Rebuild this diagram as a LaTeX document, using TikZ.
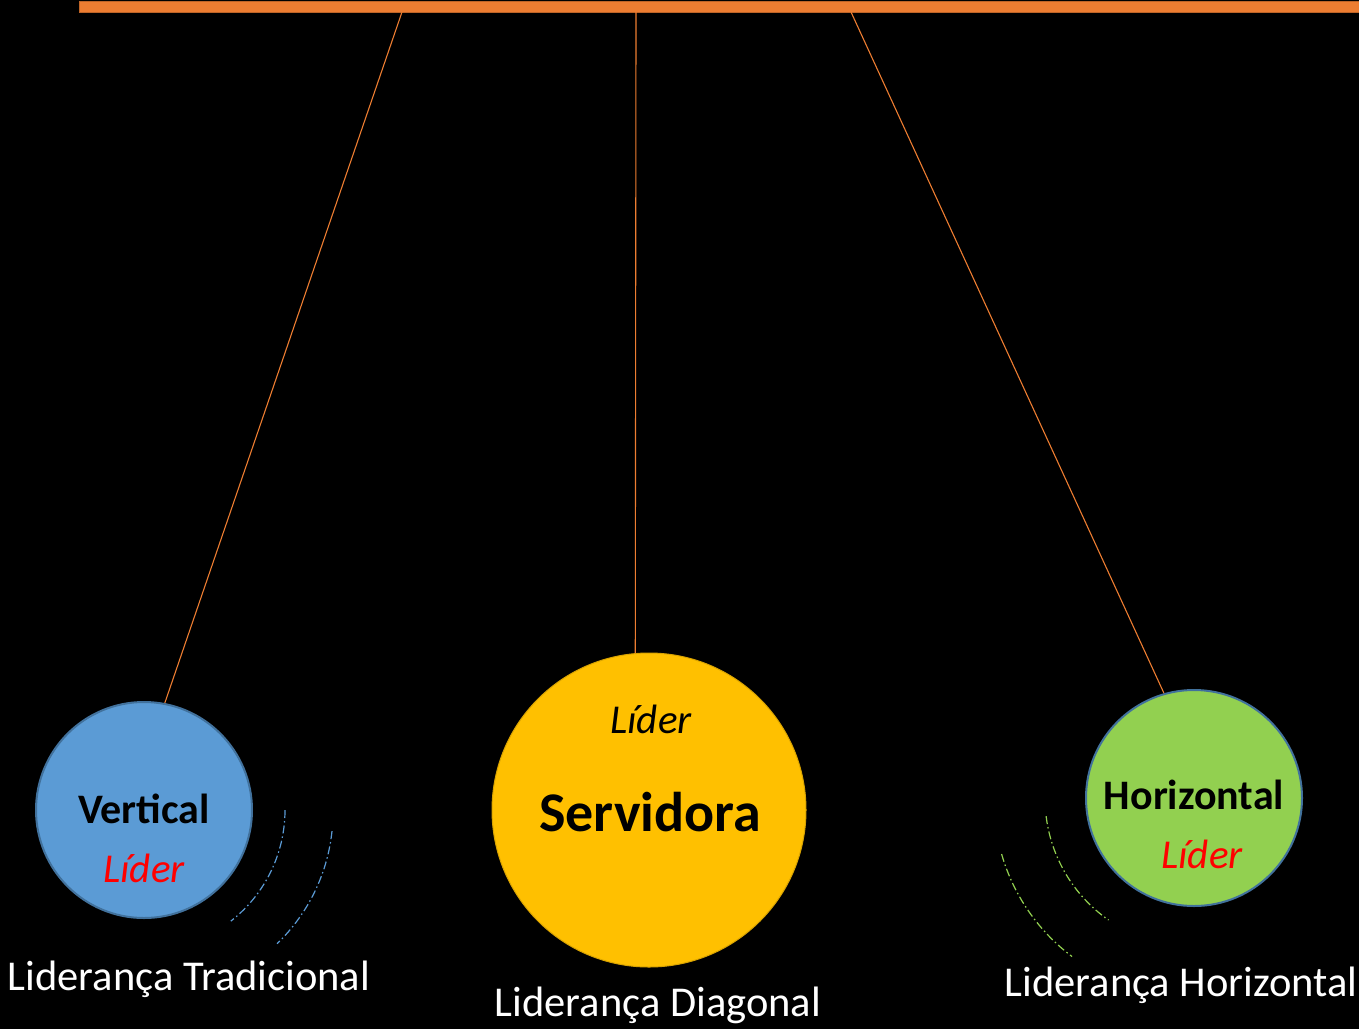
\documentclass[tikz,border=0pt]{standalone}
\usepackage{fontspec}
\setmainfont{Carlito}
\definecolor{barorange}{HTML}{ED7D31}
\definecolor{vertblue}{HTML}{5B9BD5}
\definecolor{edgeblue}{HTML}{41719C}
\definecolor{servyellow}{HTML}{FFC000}
\definecolor{horizgreen}{HTML}{92D050}
\begin{document}
\begin{tikzpicture}[
x=1pt, y=-1pt,
ball/.style={circle, inner sep=0pt, line width=2pt},
string/.style={draw=barorange, line width=1.1pt},
swing/.style={line width=1.2pt, dash pattern=on 8pt off 3pt on 1.5pt off 3pt},
tag/.style={anchor=base, inner sep=0pt, font=\fontsize{42.5}{50}\selectfont},
]
\fill[black] (0,0) rectangle (1359,1029);
\useasboundingbox (0,0) rectangle (1359,1029);
% bar
\fill[barorange, draw=barorange!80!black, line width=0.8pt] (79,1) rectangle (1359,12);
\coordinate (pL) at (402,12);
\coordinate (pM) at (636,12);
\coordinate (pR) at (851,12);
% balls
\node[ball, fill=vertblue, draw=edgeblue, minimum size=216pt] (vert) at (144,810) {};
\node[ball, fill=servyellow, draw=servyellow!85!black, line width=1pt, minimum size=314pt] (serv) at (649,810) {};
\node[ball, fill=horizgreen, draw=edgeblue, minimum size=216pt] (horiz) at (1194,798) {};
% strings
\draw[string] (pL) -- (vert.79);
\draw[string] (pM) -- (serv.95);
\draw[string] (pR) -- (horiz.106);
% texts inside
\node[tag, font=\fontsize{42}{50}\selectfont\bfseries] (vertT) at (144,823) {Vertical};
\node[tag, font=\fontsize{41}{49}\selectfont\itshape, text=red] (vertL) at (144,882) {Líder};
\node[tag, font=\fontsize{41}{49}\selectfont\itshape] (servL) at (651,733) {Líder};
\node[tag, font=\fontsize{56}{67}\selectfont\bfseries] (servT) at (650,831) {Servidora};
\node[tag, font=\fontsize{42}{50}\selectfont\bfseries] (horizT) at (1194,809) {Horizontal};
\node[tag, font=\fontsize{41}{49}\selectfont\itshape, text=red] (horizL) at (1202,868) {Líder};
% captions
\node[tag, text=white] (capL) at (189,990) {Liderança Tradicional};
\node[tag, text=white] (capM) at (658,1016) {Liderança Diagonal};
\node[tag, text=white] (capR) at (1181,996) {Liderança Horizontal};
% motion
\draw[swing, vertblue] (vert.center) ++(0:141) arc (0:52:141);
\draw[swing, vertblue] (150,812) ++(6:183) arc (6:46:183);
\draw[swing, horizgreen] (horiz.center) ++(173:149) arc (173:125:149);
\draw[swing, horizgreen] (1190,800) ++(164:196) arc (164:127:196);
\end{tikzpicture}
\end{document}
